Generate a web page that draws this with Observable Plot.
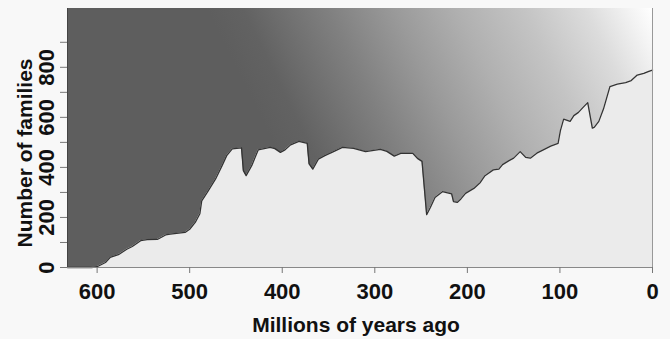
<!DOCTYPE html>
<html><head><meta charset="utf-8">
<script src="https://cdn.jsdelivr.net/npm/d3@7"></script>
<script src="https://cdn.jsdelivr.net/npm/@observablehq/plot@0.6"></script>
<style>
html,body{margin:0;padding:0;background:#f8f8f8;}
#chart svg{display:block;}
</style></head><body><div id="chart"></div>
<script>
// Millions of years ago
const years = [632,606,600,591,586,577,568,562,553,546,535,526,521,505,500,494,489,487,481,478,472,465,460,454,444,442,439,433,426,413,408,402,397,391,382,373,371,367,361,354,344,335,323,310,294,287,279,272,259,254,249,244,240,235,227,217,215,211,207,202,193,186,181,172,166,162,155,150,143,137,132,125,118,110,102,99.5,96,89,85,80,75,70,65,63,58,53,46,38,29,23,16.5,9.4,4,0];
// Number of marine families
const families = [0,0,3,20,40,51,73,84,107,111,112,130,133,140,153,180,215,266,300,318,354,407,447,474,478,387,367,407,470,480,475,460,470,490,504,496,414,393,433,447,464,480,476,463,472,464,445,456,456,436,424,211,240,280,303,294,263,260,274,296,316,340,367,390,393,411,427,437,463,440,437,457,470,485,496,547,593,584,607,620,640,659,557,560,584,633,723,733,739,747,769,776,784,789];
const xDomain = [632, 0];
const yDomain = [0, 1035];
const xTicks = [600, 500, 400, 300, 200, 100, 0];
const yTicks = [0, 100, 200, 300, 400, 500, 600, 700, 800, 900];
const yLabels = [0, 200, 400, 600, 800];
const xTitle = "Millions of years ago";
const yTitle = "Number of families";

const data = years.map((t, i) => ({t, n: families[i]}));

const gradStops = [
  [0, "#5e5e5e"], [0.08, "#626262"], [0.27, "#808080"], [0.42, "#9a9a9a"],
  [0.56, "#b0b0b0"], [0.71, "#c4c4c4"], [0.85, "#dcdcdc"], [0.95, "#f4f4f4"], [1, "#ffffff"]
];

function backdrop(index, scales, values, dims) {
  const {width, height, marginLeft, marginRight, marginTop, marginBottom} = dims;
  const x0 = marginLeft, x1 = width - marginRight, y0 = marginTop, y1 = height - marginBottom;
  const g = d3.create("svg:g");
  const grad = g.append("defs").append("linearGradient")
    .attr("id", "bggrad").attr("gradientUnits", "userSpaceOnUse");
  const ang = 26 * Math.PI / 180, len = 400;
  grad.attr("x2", x1).attr("y2", y0)
      .attr("x1", x1 - len * Math.cos(ang)).attr("y1", y0 + len * Math.sin(ang));
  gradStops.forEach(([o, c]) => grad.append("stop").attr("offset", o).attr("stop-color", c));
  g.append("rect").attr("x", x0).attr("y", y0)
    .attr("width", x1 - x0).attr("height", y1 - y0).attr("fill", "url(#bggrad)");
  return g.node();
}

const chart = Plot.plot({
  width: 670, height: 339,
  marginLeft: 67, marginRight: 18, marginTop: 8, marginBottom: 72,
  style: {background: "transparent", fontFamily: "'Liberation Sans', Arial, sans-serif",
          fontWeight: "bold", fontSize: "21px", color: "#111"},
  x: {domain: xDomain},
  y: {domain: yDomain},
  marks: [
    backdrop,
    Plot.areaY(data, {x: "t", y: "n", fill: "#ebebeb"}),
    Plot.lineY(data, {x: "t", y: "n", stroke: "#333", strokeWidth: 1.3}),
    Plot.ruleY([0], {stroke: "#888", strokeWidth: 1.2}),
    Plot.ruleX([xDomain[1]], {stroke: "#999", strokeWidth: 1}),
    Plot.ruleX([xDomain[0]], {stroke: "#444", strokeWidth: 1}),
    Plot.axisX({ticks: xTicks, tickSize: 6, tickPadding: 10, label: null, stroke: "#777", fill: "#111", fontSize: 22}),
    Plot.axisY({ticks: yTicks, tickSize: 7, tickPadding: 7, tickRotate: -90, fontSize: 22,
                tickFormat: d => yLabels.includes(d) ? String(d) : "", label: null, stroke: "#777", fill: "#111"}),
    Plot.text([yTitle], {frameAnchor: "left", textAnchor: "middle", lineAnchor: "middle", rotate: -90,
                         dx: -42, dy: 15, fontSize: 21, fontWeight: "bold", fill: "#111"}),
    Plot.text([xTitle], {frameAnchor: "bottom", textAnchor: "middle", lineAnchor: "middle",
                         dx: -4, dy: 58, fontSize: 21, fontWeight: "bold", fill: "#111"})
  ]
});
document.getElementById("chart").appendChild(chart);
</script>
</body></html>
